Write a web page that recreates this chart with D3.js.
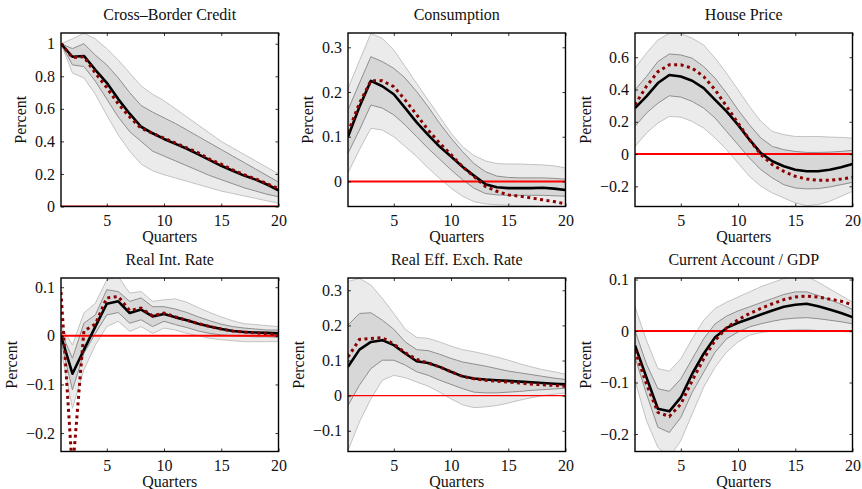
<!DOCTYPE html>
<html>
<head>
<meta charset="utf-8">
<script src="https://cdn.jsdelivr.net/npm/d3@7"></script>
<style>
  body { margin: 0; background: #fff; }
  svg { display: block; }
  text { font-family: "Liberation Serif", "Times New Roman", serif; fill: #111; }
</style>
</head>
<body>
<svg id="chart" width="862" height="489"></svg>
<script>
// quarters after the shock
const quarters = [1, 2, 3, 4, 5, 6, 7, 8, 9, 10, 11, 12, 13, 14, 15, 16, 17, 18, 19, 20];
const xTicks = [5, 10, 15, 20];

// Cross-Border Credit
const creditMedian = [1.0, 0.92, 0.925, 0.84, 0.76, 0.66, 0.57, 0.49, 0.45, 0.415, 0.385, 0.355, 0.32, 0.285, 0.25, 0.22, 0.19, 0.165, 0.135, 0.10];
const creditModel = [1.0, 0.915, 0.92, 0.82, 0.73, 0.63, 0.55, 0.48, 0.45, 0.42, 0.39, 0.36, 0.33, 0.29, 0.26, 0.225, 0.195, 0.17, 0.14, 0.11];
const creditInnerHi = [1.0, 0.97, 1.0, 0.93, 0.87, 0.79, 0.70, 0.62, 0.58, 0.545, 0.51, 0.47, 0.43, 0.39, 0.35, 0.31, 0.27, 0.23, 0.19, 0.15];
const creditInnerLo = [1.0, 0.87, 0.86, 0.77, 0.66, 0.55, 0.46, 0.40, 0.34, 0.31, 0.28, 0.25, 0.22, 0.19, 0.165, 0.14, 0.115, 0.095, 0.075, 0.06];
const creditOuterHi = [1.0, 1.03, 1.065, 1.03, 0.97, 0.90, 0.82, 0.74, 0.69, 0.65, 0.60, 0.55, 0.50, 0.45, 0.40, 0.36, 0.32, 0.28, 0.24, 0.20];
const creditOuterLo = [1.0, 0.82, 0.79, 0.69, 0.56, 0.44, 0.34, 0.26, 0.22, 0.195, 0.175, 0.155, 0.135, 0.115, 0.095, 0.08, 0.065, 0.05, 0.035, 0.02];
const creditTicks = [0, 0.2, 0.4, 0.6, 0.8, 1];

// Consumption
const consMedian = [0.10, 0.167, 0.225, 0.213, 0.195, 0.164, 0.132, 0.104, 0.078, 0.056, 0.033, 0.013, -0.006, -0.013, -0.015, -0.015, -0.015, -0.014, -0.016, -0.019];
const consModel = [0.11, 0.175, 0.225, 0.225, 0.212, 0.182, 0.149, 0.115, 0.086, 0.06, 0.033, 0.011, -0.011, -0.022, -0.03, -0.033, -0.037, -0.041, -0.045, -0.05];
const consInnerHi = [0.16, 0.22, 0.279, 0.268, 0.253, 0.231, 0.201, 0.167, 0.13, 0.097, 0.067, 0.04, 0.022, 0.012, 0.009, 0.008, 0.008, 0.008, 0.007, 0.005];
const consInnerLo = [0.063, 0.115, 0.171, 0.164, 0.149, 0.126, 0.10, 0.074, 0.05, 0.026, 0.004, -0.015, -0.027, -0.03, -0.031, -0.031, -0.031, -0.031, -0.032, -0.033];
const consOuterHi = [0.208, 0.27, 0.331, 0.32, 0.294, 0.257, 0.219, 0.182, 0.145, 0.108, 0.078, 0.058, 0.046, 0.04, 0.039, 0.039, 0.038, 0.037, 0.035, 0.03];
const consOuterLo = [0.019, 0.071, 0.119, 0.115, 0.10, 0.078, 0.056, 0.03, 0.007, -0.015, -0.033, -0.045, -0.05, -0.052, -0.053, -0.054, -0.054, -0.055, -0.055, -0.056];
const consTicks = [0, 0.1, 0.2, 0.3];

// House Price
const houseMedian = [0.285, 0.357, 0.44, 0.49, 0.48, 0.454, 0.408, 0.336, 0.264, 0.181, 0.089, 0.006, -0.045, -0.076, -0.097, -0.107, -0.107, -0.097, -0.082, -0.062];
const houseModel = [0.305, 0.42, 0.51, 0.553, 0.553, 0.532, 0.48, 0.398, 0.295, 0.192, 0.089, -0.004, -0.066, -0.107, -0.138, -0.155, -0.163, -0.163, -0.155, -0.144];
const houseInnerHi = [0.398, 0.48, 0.573, 0.62, 0.614, 0.594, 0.542, 0.47, 0.377, 0.274, 0.181, 0.099, 0.047, 0.027, 0.016, 0.01, 0.01, 0.012, 0.016, 0.023];
const houseInnerLo = [0.171, 0.254, 0.315, 0.361, 0.353, 0.326, 0.285, 0.223, 0.14, 0.058, -0.025, -0.097, -0.148, -0.19, -0.21, -0.216, -0.214, -0.204, -0.19, -0.175];
const houseOuterHi = [0.532, 0.625, 0.707, 0.748, 0.748, 0.717, 0.676, 0.594, 0.501, 0.398, 0.295, 0.202, 0.14, 0.12, 0.109, 0.109, 0.109, 0.105, 0.103, 0.099];
const houseOuterLo = [0.047, 0.13, 0.192, 0.233, 0.229, 0.202, 0.161, 0.099, 0.027, -0.056, -0.138, -0.2, -0.241, -0.272, -0.303, -0.32, -0.313, -0.293, -0.262, -0.231];
const houseTicks = [-0.2, 0, 0.2, 0.4, 0.6];

// Real Int. Rate
const rateMedian = [0, -0.078, -0.029, 0.019, 0.066, 0.071, 0.047, 0.054, 0.04, 0.045, 0.038, 0.032, 0.025, 0.019, 0.014, 0.01, 0.008, 0.007, 0.006, 0.005];
const rateModel = [0.09, -0.28, 0.01, 0.024, 0.078, 0.081, 0.052, 0.057, 0.041, 0.047, 0.039, 0.032, 0.025, 0.019, 0.014, 0.01, 0.008, 0.006, 0.004, 0.003];
const rateInnerHi = [0.008, -0.046, 0.026, 0.043, 0.095, 0.091, 0.071, 0.078, 0.06, 0.06, 0.055, 0.048, 0.039, 0.031, 0.024, 0.019, 0.016, 0.014, 0.012, 0.012];
const rateInnerLo = [-0.012, -0.111, -0.036, 0.005, 0.043, 0.048, 0.026, 0.033, 0.019, 0.03, 0.023, 0.017, 0.01, 0.005, 0.002, 0, -0.001, -0.002, -0.002, -0.003];
const rateOuterHi = [0.02, -0.019, 0.047, 0.067, 0.115, 0.122, 0.088, 0.091, 0.071, 0.074, 0.076, 0.069, 0.058, 0.048, 0.039, 0.031, 0.025, 0.023, 0.021, 0.019];
const rateOuterLo = [-0.03, -0.149, -0.07, -0.019, 0.019, 0.03, 0.009, 0.019, 0.005, 0.016, 0.012, 0.005, 0, -0.005, -0.008, -0.01, -0.012, -0.012, -0.012, -0.012];
const rateTicks = [-0.2, -0.1, 0, 0.1];

// Real Eff. Exch. Rate
const reerMedian = [0.082, 0.131, 0.153, 0.158, 0.144, 0.12, 0.098, 0.093, 0.082, 0.068, 0.055, 0.049, 0.046, 0.044, 0.042, 0.04, 0.038, 0.036, 0.034, 0.032];
const reerModel = [0.11, 0.16, 0.163, 0.165, 0.147, 0.122, 0.103, 0.093, 0.082, 0.068, 0.055, 0.048, 0.044, 0.041, 0.039, 0.036, 0.033, 0.031, 0.029, 0.027];
const reerInnerHi = [0.201, 0.234, 0.236, 0.215, 0.189, 0.153, 0.131, 0.128, 0.118, 0.106, 0.096, 0.09, 0.084, 0.077, 0.07, 0.065, 0.06, 0.055, 0.05, 0.046];
const reerInnerLo = [-0.028, 0.03, 0.077, 0.101, 0.101, 0.087, 0.068, 0.058, 0.044, 0.032, 0.02, 0.01, 0.008, 0.008, 0.01, 0.012, 0.015, 0.017, 0.019, 0.021];
const reerOuterHi = [0.325, 0.334, 0.315, 0.277, 0.234, 0.189, 0.166, 0.163, 0.153, 0.141, 0.131, 0.125, 0.118, 0.11, 0.101, 0.091, 0.082, 0.074, 0.068, 0.061];
const reerOuterLo = [-0.156, -0.075, -0.009, 0.044, 0.058, 0.051, 0.039, 0.027, 0.01, -0.009, -0.026, -0.034, -0.032, -0.028, -0.021, -0.013, -0.006, 0, 0.004, 0.008];
const reerTicks = [-0.1, 0, 0.1, 0.2, 0.3];

// Current Account / GDP
const caMedian = [-0.028, -0.09, -0.151, -0.156, -0.129, -0.083, -0.044, -0.012, 0.006, 0.016, 0.024, 0.032, 0.04, 0.047, 0.051, 0.053, 0.048, 0.042, 0.035, 0.027];
const caModel = [-0.038, -0.103, -0.158, -0.166, -0.142, -0.096, -0.054, -0.018, 0.006, 0.022, 0.034, 0.044, 0.053, 0.061, 0.066, 0.068, 0.066, 0.062, 0.058, 0.051];
const caInnerHi = [0.001, -0.064, -0.112, -0.117, -0.093, -0.054, -0.015, 0.014, 0.029, 0.039, 0.047, 0.055, 0.063, 0.071, 0.076, 0.076, 0.069, 0.061, 0.052, 0.042];
const caInnerLo = [-0.051, -0.122, -0.187, -0.197, -0.168, -0.119, -0.08, -0.041, -0.015, -0.002, 0.008, 0.014, 0.019, 0.023, 0.025, 0.026, 0.024, 0.021, 0.018, 0.014];
const caOuterHi = [0.047, -0.018, -0.073, -0.078, -0.054, -0.015, 0.021, 0.044, 0.056, 0.066, 0.076, 0.086, 0.094, 0.102, 0.106, 0.106, 0.095, 0.082, 0.069, 0.056];
const caOuterLo = [-0.096, -0.174, -0.226, -0.245, -0.213, -0.161, -0.109, -0.07, -0.041, -0.021, -0.008, -0.003, 0, 0.001, 0.003, 0.003, 0.001, 0, -0.001, -0.002];
const caTicks = [-0.2, -0.1, 0, 0.1];

const titles = ["Cross\u2013Border Credit", "Consumption", "House Price", "Real Int. Rate", "Real Eff. Exch. Rate", "Current Account / GDP"];

// panel layout: y limits and frame position
const panels = [
  { title: titles[0], med: creditMedian, model: creditModel, iHi: creditInnerHi, iLo: creditInnerLo, oHi: creditOuterHi, oLo: creditOuterLo, ticks: creditTicks, ylim: [0, 1.066], col: 0, row: 0, zeroW: 2 },
  { title: titles[1], med: consMedian, model: consModel, iHi: consInnerHi, iLo: consInnerLo, oHi: consOuterHi, oLo: consOuterLo, ticks: consTicks, ylim: [-0.056, 0.332], col: 1, row: 0, zeroW: 2 },
  { title: titles[2], med: houseMedian, model: houseModel, iHi: houseInnerHi, iLo: houseInnerLo, oHi: houseOuterHi, oLo: houseOuterLo, ticks: houseTicks, ylim: [-0.325, 0.75], col: 2, row: 0, zeroW: 2 },
  { title: titles[3], med: rateMedian, model: rateModel, iHi: rateInnerHi, iLo: rateInnerLo, oHi: rateOuterHi, oLo: rateOuterLo, ticks: rateTicks, ylim: [-0.238, 0.119], col: 0, row: 1, zeroW: 2 },
  { title: titles[4], med: reerMedian, model: reerModel, iHi: reerInnerHi, iLo: reerInnerLo, oHi: reerOuterHi, oLo: reerOuterLo, ticks: reerTicks, ylim: [-0.159, 0.335], col: 1, row: 1, zeroW: 1.2 },
  { title: titles[5], med: caMedian, model: caModel, iHi: caInnerHi, iLo: caInnerLo, oHi: caOuterHi, oLo: caOuterLo, ticks: caTicks, ylim: [-0.234, 0.103], col: 2, row: 1, zeroW: 2 }
];

const colLeft = [61, 348, 635], plotW = 217.5;
const rowTop = [33, 278], plotH = 173.5;
const fmt = d3.format("~g");
const svg = d3.select("#chart");

panels.forEach((p, k) => {
  const left = colLeft[p.col], top = rowTop[p.row];
  const g = svg.append("g").attr("transform", `translate(${left},${top})`);

  const x = d3.scaleLinear().domain([1, 20]).range([0, plotW]);
  const y = d3.scaleLinear().domain(p.ylim).range([plotH, 0]);

  const clipId = "clip" + k;
  g.append("clipPath").attr("id", clipId)
    .append("rect").attr("width", plotW).attr("height", plotH);
  const plot = g.append("g").attr("clip-path", `url(#${clipId})`);

  const band = (hi, lo) => d3.area()
    .x((d, i) => x(quarters[i]))
    .y0((d, i) => y(lo[i]))
    .y1((d, i) => y(hi[i]))(quarters);
  const line = d3.line().x((d, i) => x(quarters[i])).y(d => y(d));

  // shaded error bands
  plot.append("path").attr("d", band(p.oHi, p.oLo)).attr("fill", "#ebebeb");
  plot.append("path").attr("d", band(p.iHi, p.iLo)).attr("fill", "#d7d7d7");
  [p.oHi, p.oLo].forEach(s => plot.append("path").attr("d", line(s))
    .attr("fill", "none").attr("stroke", "#c2c2c2").attr("stroke-width", 1));
  [p.iHi, p.iLo].forEach(s => plot.append("path").attr("d", line(s))
    .attr("fill", "none").attr("stroke", "#8e8e8e").attr("stroke-width", 1));

  // zero line
  plot.append("line")
    .attr("x1", 0).attr("x2", plotW)
    .attr("y1", y(0)).attr("y2", y(0))
    .attr("stroke", "#ff0000").attr("stroke-width", p.zeroW);

  plot.append("path").attr("d", line(p.med))
    .attr("fill", "none").attr("stroke", "#000").attr("stroke-width", 2.6)
    .attr("stroke-linejoin", "round");
  plot.append("path").attr("d", line(p.model))
    .attr("fill", "none").attr("stroke", "#8b0000").attr("stroke-width", 3)
    .attr("stroke-dasharray", "3,3.5");

  // axes with inward ticks on all four sides
  const xAxis = g.append("g").attr("transform", `translate(0,${plotH})`)
    .call(d3.axisBottom(x).tickValues(xTicks).tickSize(-3).tickPadding(5).tickFormat(fmt));
  const xTop = g.append("g")
    .call(d3.axisTop(x).tickValues(xTicks).tickSize(-3).tickFormat(""));
  const yAxis = g.append("g")
    .call(d3.axisLeft(y).tickValues(p.ticks).tickSize(-3).tickPadding(6).tickFormat(fmt));
  const yRight = g.append("g").attr("transform", `translate(${plotW},0)`)
    .call(d3.axisRight(y).tickValues(p.ticks).tickSize(-3).tickFormat(""));

  [xAxis, xTop, yAxis, yRight].forEach(a => {
    a.select(".domain").remove();
    a.selectAll(".tick line").attr("stroke", "#000").attr("stroke-width", 0.8);
    a.selectAll("text").attr("font-size", 16).attr("fill", "#111")
      .attr("font-family", "'Liberation Serif', serif");
  });
  xAxis.selectAll("text").attr("y", 8);

  // frame
  g.append("rect").attr("width", plotW).attr("height", plotH)
    .attr("fill", "none").attr("stroke", "#000").attr("stroke-width", 1.4);

  g.append("text").attr("x", plotW / 2).attr("y", -13)
    .attr("text-anchor", "middle").attr("font-size", 16).text(p.title);

  g.append("text").attr("x", plotW / 2).attr("y", plotH + 35)
    .attr("text-anchor", "middle").attr("font-size", 16).text("Quarters");

  const tickLeft = d3.min(yAxis.selectAll("text").nodes(), n => n.getBBox().x);
  const labX = tickLeft - 9;
  g.append("text")
    .attr("transform", `translate(${labX},${plotH / 2}) rotate(-90)`)
    .attr("text-anchor", "middle").attr("font-size", 16).text("Percent");
});
</script>
</body>
</html>
